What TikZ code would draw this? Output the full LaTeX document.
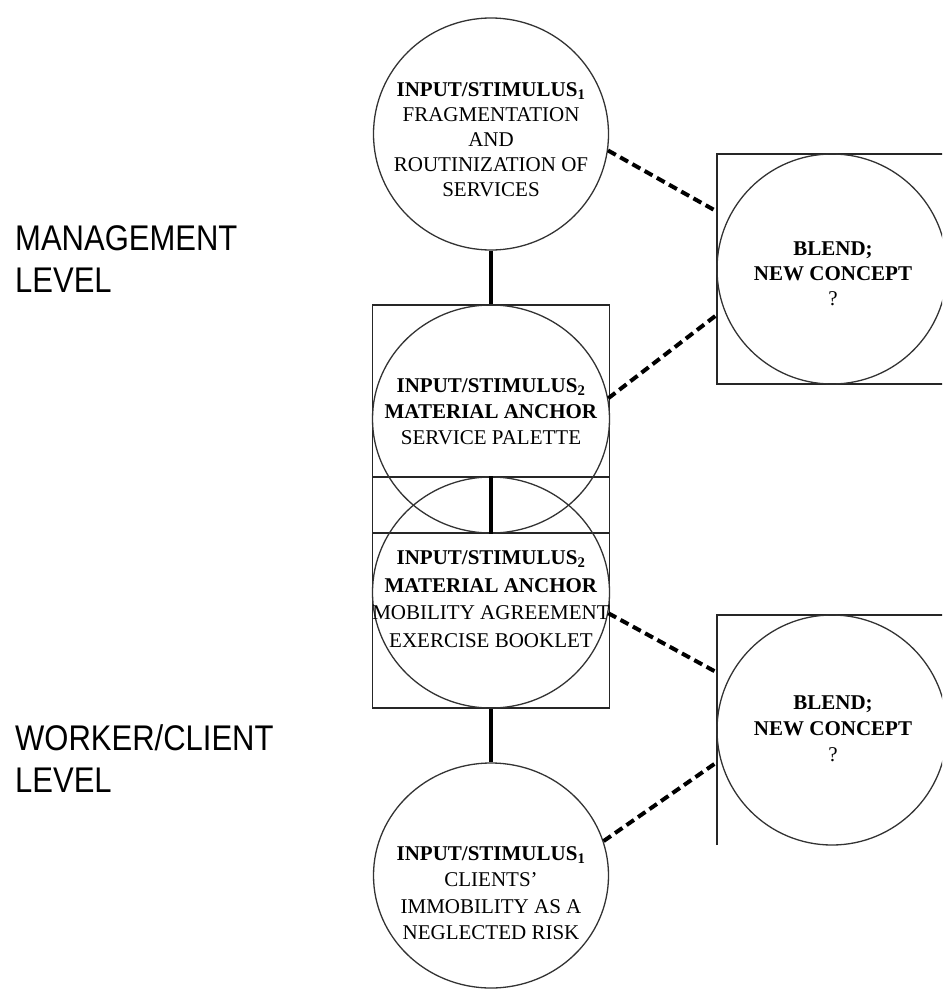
\documentclass[tikz,border=0pt]{standalone}
\usepackage{fontspec}
\usepackage{graphicx}
\setmainfont{Liberation Serif}
\newfontfamily\levelfont{Liberation Sans}
\usetikzlibrary{shapes.geometric,calc}

\begin{document}
\begin{tikzpicture}[x=1pt,y=-1pt,
  ring/.style={draw=black!80, line width=1.3pt, ellipse, inner sep=0pt},
  frame/.style={draw=black!85, line width=1.8pt, rectangle, inner sep=0pt},
  stem/.style={line width=4.5pt},
  blendlink/.style={line width=4pt, dash pattern=on 9pt off 5pt},
  txt/.style={align=center, inner sep=0pt, font=\fontsize{21}{25}\selectfont},
  levellabel/.style={anchor=base west, inner sep=0pt, font=\levelfont\fontsize{31}{36.5}\selectfont}]

\clip (0,0) rectangle (942,990);

% central column: inputs and the double frame of the material anchors
\node[ring, minimum width=235pt, minimum height=232pt] (c1) at (491,134) {};
\node[frame, minimum width=237pt, minimum height=228pt] (sqA) at (491,419) {};
\node[frame, minimum width=237pt, minimum height=231pt] (sqB) at (491,592.5) {};
\node[ring, minimum width=237pt, minimum height=228pt] (c2) at (491,419) {};
\node[ring, minimum width=237pt, minimum height=231pt] (c3) at (491,592.5) {};
\node[ring, minimum width=235pt, minimum height=225pt] (c4) at (491,875.5) {};

% blends on the right
\node[frame, minimum width=233pt, minimum height=230pt] (bu) at (833.5,269) {};
\node[ring, minimum width=230pt, minimum height=230pt] (bc1) at (832,269) {};
\node[inner sep=0pt, minimum width=233pt, minimum height=230pt] (bl) at (833.5,730) {};
\draw[draw=black!85, line width=1.8pt] (bl.south west) -- (bl.north west) -- (bl.north east);
\node[ring, minimum width=230pt, minimum height=230pt] (bc2) at (832,730) {};

% vertical links
\draw[stem] (c1.south) -- (sqA.north);
\draw[stem] (c3.north) -- (c2.south);
\draw[stem] (sqB.south) -- (c4.north);

% dashed links to the blends
\draw[blendlink] (c1.-8) -- ($(bu.north west)!0.25!(bu.south west)$);
\draw[blendlink] (c2.10.7) -- ($(bu.north west)!0.70!(bu.south west)$);
\draw[blendlink] (c3.-10.7) -- ($(bl.north west)!0.25!(bl.south west)$);
\draw[blendlink] (c4.17) -- ($(bl.north west)!0.64!(bl.south west)$);

% texts
\node[txt] (t1) at (491,140) {\textbf{INPUT/STIMULUS\textsubscript{1}}\\FRAGMENTATION\\AND\\ROUTINIZATION OF\\SERVICES};
\node[txt, font=\fontsize{21}{26}\selectfont] (t2) at (491,412) {\textbf{INPUT/STIMULUS\textsubscript{2}}\\\textbf{MATERIAL ANCHOR}\\SERVICE PALETTE};
\node[txt, font=\fontsize{21}{27.5}\selectfont] (t3) at (491,599) {\textbf{INPUT/STIMULUS\textsubscript{2}}\\\textbf{MATERIAL ANCHOR}\\MOBILITY AGREEMENT\\EXERCISE BOOKLET};
\node[txt, font=\fontsize{21}{26.3}\selectfont] (t4) at (491,893) {\textbf{INPUT/STIMULUS\textsubscript{1}}\\CLIENTS'\\IMMOBILITY AS A\\NEGLECTED RISK};
\node[txt] (bt1) at (833,274) {\textbf{BLEND;}\\\textbf{NEW CONCEPT}\\?};
\node[txt, font=\fontsize{21}{26}\selectfont] (bt2) at (833,729) {\textbf{BLEND;}\\\textbf{NEW CONCEPT}\\?};

% level labels
\node[levellabel] (lm) at (15,292) {\scalebox{1}[1.15]{\begin{tabular}[b]{@{}l@{}}MANAGEMENT\\LEVEL\end{tabular}}};
\node[levellabel] (lw) at (15,792) {\scalebox{1}[1.15]{\begin{tabular}[b]{@{}l@{}}WORKER/CLIENT\\LEVEL\end{tabular}}};
\end{tikzpicture}
\end{document}
